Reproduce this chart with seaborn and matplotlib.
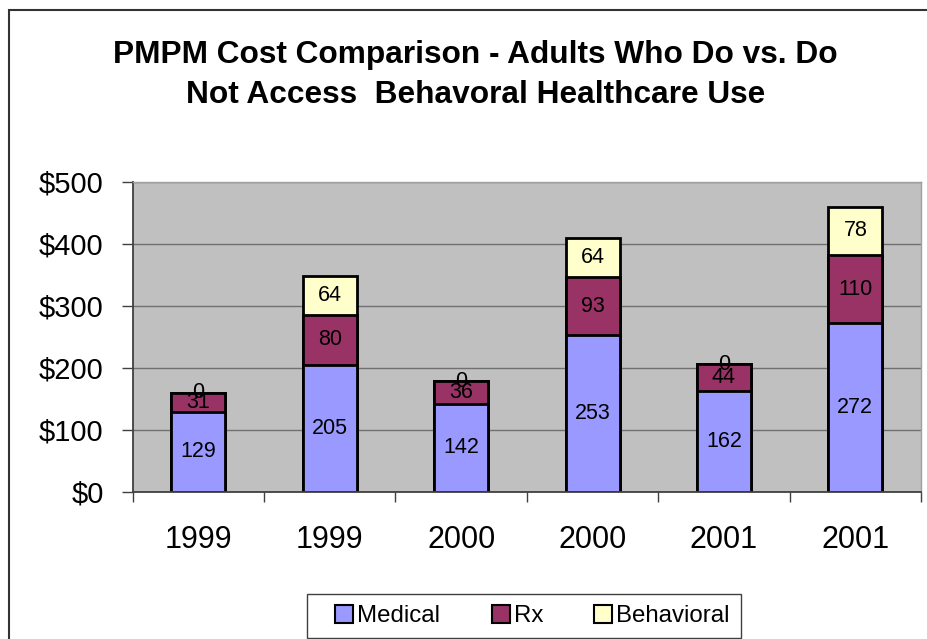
import matplotlib
matplotlib.use("Agg")
import matplotlib.pyplot as plt
import seaborn as sns
import pandas as pd
import numpy as np
from matplotlib.patches import Rectangle, Patch
from matplotlib.ticker import FixedLocator, FuncFormatter
from matplotlib.legend_handler import HandlerPatch

# ---- data ----
years = ["1999", "1999", "2000", "2000", "2001", "2001"]
medical = [129, 205, 142, 253, 162, 272]
rx = [31, 80, 36, 93, 44, 110]
behavioral = [0, 64, 0, 64, 0, 78]
series_names = ["Medical", "Rx", "Behavioral"]
colors = ["#9999FF", "#993366", "#FFFFCC"]
y_ticks = [0, 100, 200, 300, 400, 500]
title_lines = ["PMPM Cost Comparison - Adults Who Do vs. Do",
               "Not Access  Behavoral Healthcare Use"]

sns.set_theme(style="white")
plt.rcParams['font.family'] = ['Liberation Sans', 'DejaVu Sans']
plt.rcParams['text.color'] = 'black'
plt.rcParams['xtick.labelcolor'] = 'black'
plt.rcParams['ytick.labelcolor'] = 'black'

slots = [str(i) for i in range(len(years))]
df = pd.DataFrame({"slot": slots, "year": years, "Medical": medical,
                   "Rx": rx, "Behavioral": behavioral})
df["cum_med"] = df["Medical"]
df["cum_rx"] = df["Medical"] + df["Rx"]
df["cum_beh"] = df["cum_rx"] + df["Behavioral"]

fig = plt.figure(figsize=(9.28, 6.39), dpi=100)
ax = fig.add_axes([0.143, 0.2305, 0.8495, 0.4847])
ax.set_facecolor("#C0C0C0")

for col, c in [("cum_beh", colors[2]), ("cum_rx", colors[1]), ("cum_med", colors[0])]:
    sns.barplot(data=df, x="slot", y=col, order=slots, color=c, saturation=1,
                edgecolor="black", linewidth=2, width=0.41, ax=ax)

cont_tot, cont_rx, cont_med = ax.containers[:3]
for i in range(len(slots)):
    pm, pr, pt = cont_med[i], cont_rx[i], cont_tot[i]
    xc = pm.get_x() + pm.get_width() / 2
    hm, hr, ht = pm.get_height(), pr.get_height(), pt.get_height()
    kw = dict(ha="center", va="center", fontsize=15.5, color="black")
    ax.text(xc, hm / 2, f"{medical[i]}", **kw)
    ax.text(xc, (hm + hr) / 2, f"{rx[i]}", **kw)
    ax.text(xc, (hr + ht) / 2, f"{behavioral[i]}", **kw)

ax.set_xlabel("")
ax.set_ylabel("")
ax.set_ylim(0, 500)
ax.set_xlim(-0.5, len(slots) - 0.5)
ax.yaxis.set_major_locator(FixedLocator(y_ticks))
ax.yaxis.set_major_formatter(FuncFormatter(lambda v, p: f"${v:.0f}"))
ax.set_xticks(range(len(slots)))
ax.set_xticklabels(years)
ax.xaxis.set_minor_locator(FixedLocator(np.arange(-0.5, len(slots), 1.0)))

ax.yaxis.grid(True, color="#707070", lw=1)
ax.set_axisbelow(True)

ax.tick_params(axis="y", which="major", direction="out", length=8, width=1,
               color="#404040", labelcolor="black", pad=13, labelsize=21, left=True)
ax.tick_params(axis="x", which="major", length=0, pad=24, labelsize=22,
               labelcolor="black", bottom=True)
ax.tick_params(axis="x", which="minor", direction="out", length=7, width=1,
               color="#404040", bottom=True)

for s in ["left", "bottom"]:
    ax.spines[s].set_color("#404040")
    ax.spines[s].set_linewidth(1.3)
for s in ["top", "right"]:
    ax.spines[s].set_color("#A0A0A0")
    ax.spines[s].set_linewidth(1)

# title
fig.text(475.5 / 928, 1 - 63 / 639, title_lines[0], ha="center", va="baseline",
         fontsize=22.8, fontweight="bold", color="black")
fig.text(476 / 928, 1 - 103 / 639, title_lines[1], ha="center", va="baseline",
         fontsize=22.8, fontweight="bold", color="black")


# legend with small squares placed at the right end of a wider handle box
def square(legend, orig_handle, xdescent, ydescent, width, height, fontsize):
    sq = 13.0
    return Rectangle((-xdescent + width - sq, -ydescent + (height - sq) / 2), sq, sq)


handles = [Patch(facecolor=c, edgecolor="black", lw=1.5, label=n)
           for n, c in zip(series_names, colors)]
leg = fig.legend(handles=handles, loc="upper left", bbox_to_anchor=(307 / 928, 1 - 594 / 639),
                 ncol=3, frameon=True, fancybox=False, edgecolor="#404040", framealpha=1,
                 fontsize=17.3, handlelength=1.48, handleheight=0.8, handletextpad=0.17,
                 columnspacing=1.4, borderpad=0.45, borderaxespad=0,
                 handler_map={Patch: HandlerPatch(patch_func=square)})
for t in leg.get_texts():
    t.set_color("black")

# figure border
fig.add_artist(Rectangle((9 / 928, -0.2), 1.2, 0.2 + 1 - 10 / 639,
                         transform=fig.transFigure, fill=False,
                         edgecolor="#333333", lw=1.5))

fig.savefig("out.png", dpi=100)
